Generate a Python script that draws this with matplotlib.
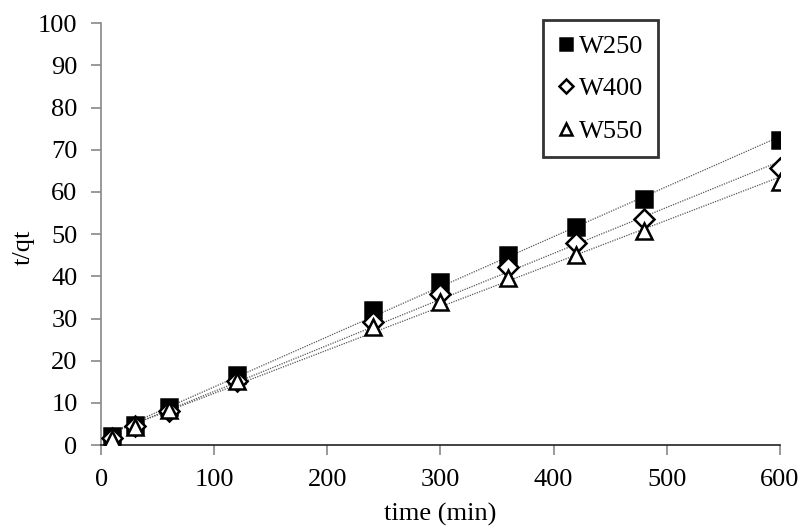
import numpy as np
import matplotlib
matplotlib.use("Agg")
import matplotlib.pyplot as plt

plt.rcParams['font.family'] = ['Liberation Serif', 'DejaVu Serif']

time = [10, 30, 60, 120, 240, 300, 360, 420, 480, 600]
w250 = [2.1, 4.8, 9.0, 16.5, 32.1, 38.6, 45.0, 51.6, 58.3, 72.3]
w400 = [1.8, 4.5, 8.0, 15.2, 29.2, 35.9, 42.3, 47.9, 53.5, 65.7]
w550 = [1.5, 4.2, 8.3, 15.3, 28.0, 34.0, 39.5, 45.0, 50.7, 62.4]
labels = ['W250', 'W400', 'W550']

fig = plt.figure(figsize=(8.03, 5.28), dpi=100)
ax = fig.add_axes([0.126, 0.157, 0.845, 0.799])

t = np.array(time)
series = [w250, w400, w550]
markers = ['s', 'D', '^']
faces = ['black', 'white', 'white']
sizes = [11.5, 10, 11.5]
handles = []
for y, m, fc, ms, lab in zip(series, markers, faces, sizes, labels):
    k, b = np.polyfit(t, y, 1)
    xs = np.array([t.min(), t.max()])
    ax.plot(xs, k * xs + b, linestyle=(0, (1, 1)), color='#555555', linewidth=0.9, zorder=2)
    h, = ax.plot(t, y, linestyle='none', marker=m, markersize=ms, markerfacecolor=fc,
                 markeredgecolor='black', markeredgewidth=1.8, label=lab, zorder=3)
    handles.append(h)

fs = 19
ax.set_xlim(0, 600)
ax.set_ylim(0, 100)
ax.set_xticks(range(0, 601, 100))
ax.set_yticks(range(0, 101, 10))
for s in ['top', 'right']:
    ax.spines[s].set_visible(False)
ax.spines['left'].set_color('#888888')
ax.spines['left'].set_linewidth(1.2)
ax.spines['bottom'].set_color('#222222')
ax.spines['bottom'].set_linewidth(1.2)
ax.tick_params(direction='out', length=7, width=1.2, color='#888888', labelsize=fs, labelcolor='black')
ax.tick_params(axis='x', pad=10)
ax.tick_params(axis='y', pad=10)
ax.set_xlabel('time (min)', fontsize=fs, labelpad=9)
ax.set_ylabel('t/qt', fontsize=fs)
ax.yaxis.set_label_coords(-0.098, 0.47)

leg = ax.legend(handles=handles, loc='center', bbox_to_anchor=(0.736, 0.845), fontsize=fs,
                frameon=True, fancybox=False, edgecolor='black', handlelength=0.6,
                handletextpad=0.2, labelspacing=0.72, borderpad=0.55, markerscale=0.75)
leg.get_frame().set_linewidth(2)

fig.savefig('out.png', dpi=100)
